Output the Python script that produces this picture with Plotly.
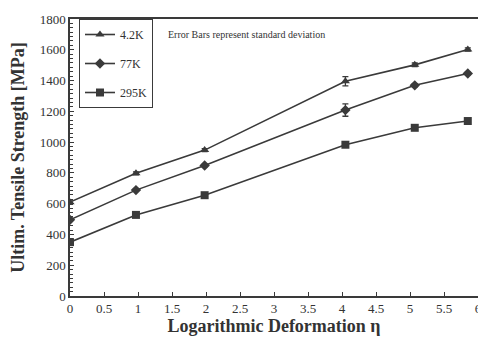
import plotly.graph_objects as go

eta = [0.0, 0.97, 1.98, 4.05, 5.07, 5.85]
s_4k = [610, 797, 948, 1395, 1502, 1602]
s_77k = [495, 688, 848, 1208, 1369, 1446]
s_295k = [350, 527, 655, 983, 1093, 1137]
err_4k = [15, 10, 10, 30, 12, 10]
err_77k = [10, 8, 8, 40, 10, 8]
err_295k = [15, 10, 12, 10, 10, 10]
names = ["4.2K", "77K", "295K"]
symbols = ["triangle-up", "diamond", "square"]

col = "#3a3a3a"
font = "Liberation Serif"

fig = go.Figure()
for i, (ys, es) in enumerate([(s_4k, err_4k), (s_77k, err_77k), (s_295k, err_295k)]):
    fig.add_trace(go.Scatter(
        x=eta, y=ys, name=names[i], mode="lines+markers",
        line=dict(color=col, width=1.6),
        marker=dict(symbol=symbols[i], size=8, color=col),
        error_y=dict(type="data", array=es, color=col, thickness=1.3, width=3),
        legendgroup=names[i],
    ))

fig.add_annotation(
    x=0.235, y=0.945, xref="paper", yref="paper", xanchor="left", yanchor="middle",
    text="Error Bars represent standard deviation", showarrow=False,
    font=dict(family=font, size=10, color="#333"),
)

# page body adds an 8px margin, so the figure is shrunk and offset accordingly
fig.update_layout(
    width=478, height=337,
    margin=dict(l=62, r=4, t=8, b=49),
    paper_bgcolor="white", plot_bgcolor="white",
    font=dict(family=font, color="#333"),
    legend=dict(
        x=0.022, y=1.0, xanchor="left", yanchor="top",
        bordercolor=col, borderwidth=1, bgcolor="white",
        font=dict(family=font, size=12, color="#333"),
        tracegroupgap=10, itemwidth=30,
    ),
    xaxis=dict(
        range=[0, 6], dtick=0.5, tick0=0,
        ticks="inside", ticklen=4, tickcolor=col,
        showline=True, linecolor=col, linewidth=1.5, mirror=True,
        showgrid=False, zeroline=False,
        tickfont=dict(family=font, size=13, color="#333"),
        title=dict(text="<b>Logarithmic Deformation η</b>",
                   font=dict(family=font, size=18, color="#333"), standoff=4),
    ),
    yaxis=dict(
        range=[0, 1800], dtick=200,
        ticks="inside", ticklen=4, tickcolor=col,
        minor=dict(dtick=200/7, ticks="inside", ticklen=3, tickcolor=col),
        showline=True, linecolor=col, linewidth=1.5, mirror=True,
        showgrid=False, zeroline=False,
        tickfont=dict(family=font, size=13, color="#333"),
        title=dict(text="<b>Ultim. Tensile Strength [MPa]</b>",
                   font=dict(family=font, size=18, color="#333"), standoff=11),
    ),
)

fig.write_html("out.html")
